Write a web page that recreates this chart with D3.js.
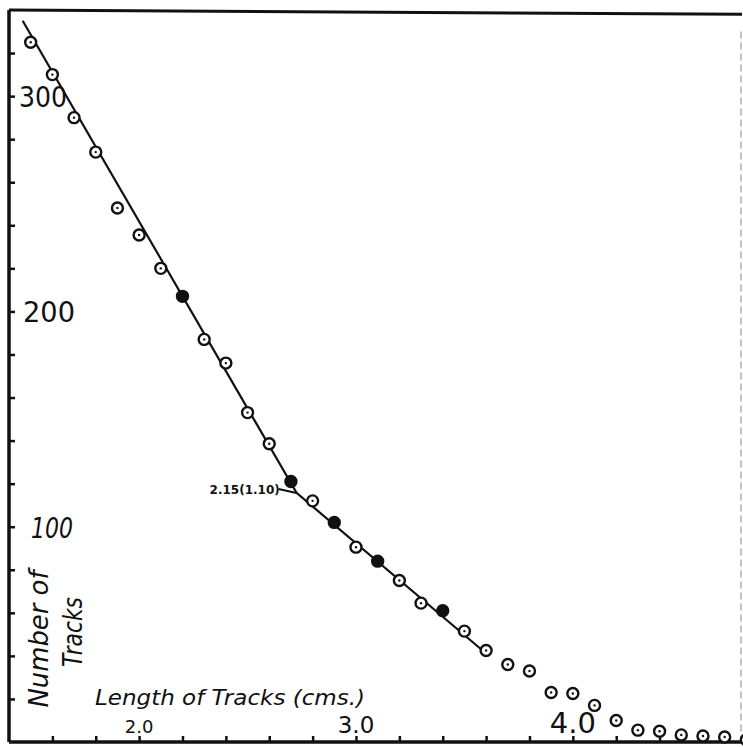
<!DOCTYPE html>
<html>
<head>
<meta charset="utf-8">
<script src="https://cdn.jsdelivr.net/npm/d3@7"></script>
<style>
  html, body { margin: 0; padding: 0; background: #fff; }
  svg { display: block; }
  text { font-family: 'DejaVu Sans', 'Liberation Sans', sans-serif; fill: #111; }
</style>
</head>
<body>
<div class="chart"></div>
<script>
// track length (cm) at each counted point
const trackLength = [
  1.5, 1.6, 1.7, 1.8, 1.9, 2.0, 2.1, 2.2, 2.3, 2.4, 2.5, 2.6,
  2.7, 2.8, 2.9, 3.0, 3.1, 3.2, 3.3, 3.4, 3.5, 3.6, 3.7, 3.8,
  3.9, 4.0, 4.1, 4.2, 4.3, 4.4, 4.5, 4.6, 4.7, 4.8,
];
// number of tracks longer than that length
const trackCount = [
  325, 310, 290, 274, 248, 235.5, 220, 207, 187, 176, 153, 138.5,
  121, 112, 102, 90.5, 84, 75, 64.5, 61, 51.5, 42.5, 36, 33,
  23, 22.5, 17, 10, 5.5, 5, 3.3, 2.8, 2.3, 1,
];
// points drawn solid in the original
const solidPoints = [2.2, 2.7, 2.9, 3.1, 3.4];

// fitted straight lines, with the break at 2.73 cm
const fitLength = [1.463, 2.726, 3.592];
const fitCount = [335, 115.7, 41.8];
const breakLabel = '2.15(1.10)';

const yTickLabels = [100, 200, 300];
const yMinorTicks = d3.range(20, 340, 20);
const xTickLabels = ['2.0', '3.0', '4.0'];
const xMinorTicks = d3.range(1.6, 4.7, 0.2);

const xLabel = 'Length of Tracks (cms.)';
const yLabel = ['Number of', 'Tracks'];

drawChart();

function drawChart() {
  const width = 743;
  const height = 747;
  const svg = d3.select('.chart').append('svg').attr('width', width).attr('height', height);

  const x = d3.scaleLinear().domain([1.4, 4.78]).range([9, 742]);
  const y = d3.scaleLinear().domain([0, 340]).range([742, 10]);

  // frame
  const frame = svg.append('g').attr('stroke', '#111').attr('fill', 'none');
  frame.append('line').attr('x1', x(1.4)).attr('y1', y(340)).attr('x2', x(4.78)).attr('y2', y(338)).attr('stroke-width', 3);
  frame.append('line').attr('x1', x(1.4)).attr('y1', y(340)).attr('x2', x(1.4)).attr('y2', y(0)).attr('stroke-width', 3.5);
  frame.append('line').attr('x1', x(1.4)).attr('y1', y(0)).attr('x2', x(4.78)).attr('y2', y(0)).attr('stroke-width', 3.5);
  frame.append('line').attr('x1', x(4.78) - 1).attr('y1', y(330)).attr('x2', x(4.78) - 1).attr('y2', y(0))
    .attr('stroke-width', 1.2).attr('stroke', '#999').attr('stroke-dasharray', '7,4');

  // ticks, drawn inward
  svg.append('g')
    .attr('transform', `translate(${x(1.4)},0)`)
    .call(d3.axisRight(y).tickValues(yMinorTicks).tickSize(6).tickFormat(''))
    .call((g) => g.select('.domain').remove())
    .call((g) => g.selectAll('line').attr('stroke', '#111').attr('stroke-width', 2.5));

  svg.append('g')
    .attr('transform', `translate(0,${y(0)})`)
    .call(d3.axisTop(x).tickValues(xMinorTicks).tickSize(6).tickFormat(''))
    .call((g) => g.select('.domain').remove())
    .call((g) => g.selectAll('line').attr('stroke', '#111').attr('stroke-width', 2.5));

  // tick labels
  svg.append('g').selectAll('text').data(yTickLabels).join('text')
    .attr('x', (d) => x(1.4) + (d === 100 ? 22 : d === 200 ? 14 : 10))
    .attr('y', (d) => y(d) + 11)
    .attr('font-size', 28)
    .attr('font-style', (d) => (d === 100 ? 'italic' : 'normal'))
    .attr('textLength', (d) => (d === 100 ? 42 : d === 200 ? 52 : 48))
    .attr('lengthAdjust', 'spacingAndGlyphs')
    .text((d) => d);

  svg.append('g').selectAll('text').data(xTickLabels).join('text')
    .attr('x', (d) => x(+d))
    .attr('y', y(0) - 9)
    .attr('text-anchor', 'middle')
    .attr('font-size', (d, i) => [18, 23, 29][i])
    .text((d) => d);

  // axis titles
  svg.append('text')
    .attr('x', 95)
    .attr('y', 705)
    .attr('font-size', 21)
    .attr('font-style', 'italic')
    .attr('textLength', 270)
    .attr('lengthAdjust', 'spacingAndGlyphs')
    .text(xLabel);

  svg.append('g').selectAll('text').data(yLabel).join('text')
    .attr('transform', (d, i) => `translate(${[48, 82][i]},${[639, 632][i]}) rotate(-90)`)
    .attr('text-anchor', 'middle')
    .attr('font-size', 26)
    .attr('font-style', 'italic')
    .attr('textLength', (d, i) => [137, 70][i])
    .attr('lengthAdjust', 'spacingAndGlyphs')
    .text((d) => d);

  // fitted lines
  const fit = fitLength.map((d, i) => [d, fitCount[i]]);
  svg.append('path')
    .datum(fit)
    .attr('fill', 'none')
    .attr('stroke', '#111')
    .attr('stroke-width', 2.2)
    .attr('d', d3.line().x((d) => x(d[0])).y((d) => y(d[1])));

  // break annotation
  const bx = x(fitLength[1]);
  const by = y(fitCount[1]);
  svg.append('text')
    .attr('x', bx - 87)
    .attr('y', by + 1)
    .attr('font-size', 12)
    .attr('font-weight', 'bold')
    .text(breakLabel);
  svg.append('path')
    .attr('fill', 'none')
    .attr('stroke', '#111')
    .attr('stroke-width', 2)
    .attr('d', `M${bx - 18},${by - 4} L${bx},${by}`);

  // points
  const points = trackLength.map((d, i) => ({ len: d, count: trackCount[i] }));
  const isSolid = (d) => solidPoints.some((s) => Math.abs(s - d.len) < 1e-6);
  svg.append('g').selectAll('circle').data(points).join('circle')
    .attr('cx', (d) => x(d.len))
    .attr('cy', (d) => y(d.count))
    .attr('r', 5.5)
    .attr('fill', (d) => (isSolid(d) ? '#111' : '#fff'))
    .attr('stroke', '#111')
    .attr('stroke-width', 2.4);
  svg.append('g').selectAll('circle').data(points.filter((d) => !isSolid(d))).join('circle')
    .attr('cx', (d) => x(d.len))
    .attr('cy', (d) => y(d.count))
    .attr('r', 1.2)
    .attr('fill', '#111');
}
</script>
</body>
</html>
